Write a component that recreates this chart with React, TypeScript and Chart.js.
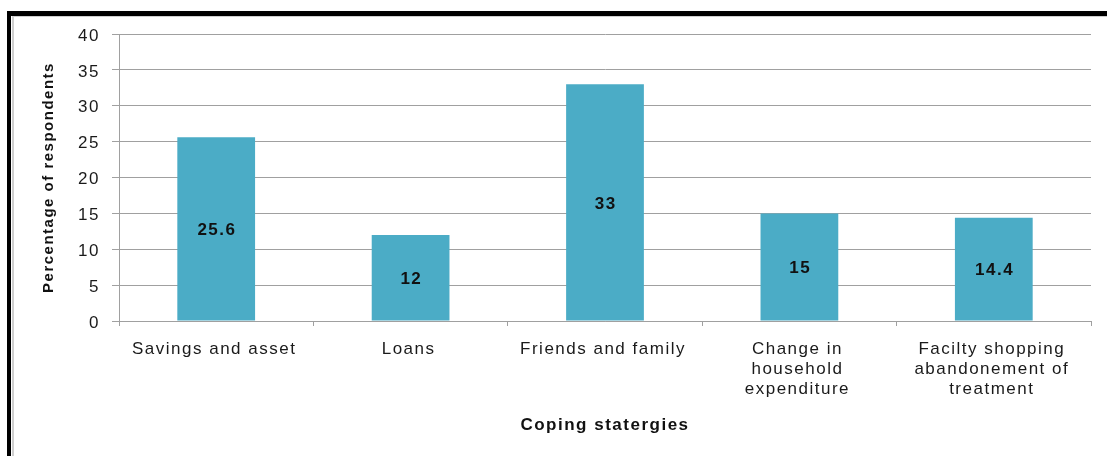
import React, { useEffect, useRef } from "react";
import { Chart, registerables } from "chart.js";

Chart.register(...registerables);

const categories: string[][] = [
  ["Savings and asset"],
  ["Loans"],
  ["Friends and family"],
  ["Change in", "household", "expenditure"],
  ["Facilty shopping", "abandonement of", "treatment"],
];
const values: number[] = [25.6, 12, 33, 15, 14.4];
const valueLabels: string[] = ["25.6", "12", "33", "15", "14.4"];
const yMin = 0;
const yMax = 40;
const yStep = 5;
const xTitle = "Coping statergies";
const yTitle = "Percentage of respondents";

const W = 1107;
const H = 456;
const FONT = "'Liberation Sans', Arial, sans-serif";
const SPACING = "1.5px";

const framePlugin = {
  id: "frame",
  beforeUpdate(chart: any) {
    chart.ctx.letterSpacing = SPACING;
  },
  beforeDraw(chart: any) {
    const ctx = chart.ctx;
    ctx.save();
    ctx.fillStyle = "#ffffff";
    ctx.fillRect(0, 0, W, H);
    ctx.fillStyle = "#000000";
    ctx.fillRect(7, 11, W - 7, 5);
    ctx.fillRect(7, 11, 4, H - 11);
    ctx.fillStyle = "#cfcfcf";
    ctx.fillRect(12, 16, W - 12, 1);
    ctx.fillRect(12, 16, 2, H - 16);
    ctx.restore();
    ctx.letterSpacing = SPACING;
  },
};

const labelPlugin = {
  id: "barLabels",
  afterDatasetsDraw(chart: any) {
    const ctx = chart.ctx;
    const meta = chart.getDatasetMeta(0);
    ctx.save();
    ctx.letterSpacing = SPACING;
    ctx.font = `bold 17px ${FONT}`;
    ctx.fillStyle = "#111111";
    ctx.textAlign = "center";
    ctx.textBaseline = "middle";
    meta.data.forEach((bar: any, i: number) => {
      const p = bar.getProps(["x", "y", "base"], true);
      ctx.fillText(valueLabels[i], p.x + 0.75, (p.y + p.base) / 2 + 1.5);
    });
    ctx.restore();
  },
};

export default function App() {
  const ref = useRef<HTMLCanvasElement>(null);
  useEffect(() => {
    if (!ref.current) return;
    const chart = new Chart(ref.current, {
      type: "bar",
      data: {
        labels: categories,
        datasets: [
          {
            data: values,
            backgroundColor: "#4BACC6",
            borderWidth: 0,
            barPercentage: 0.4,
            categoryPercentage: 1,
          },
        ],
      },
      plugins: [framePlugin, labelPlugin],
      options: {
        animation: false,
        responsive: false,
        devicePixelRatio: 1,
        layout: { padding: { top: 34, right: 16, left: 0, bottom: 0 } },
        plugins: {
          legend: { display: false },
          tooltip: { enabled: false },
        },
        scales: {
          x: {
            offset: true,
            afterFit: (s: any) => {
              s.height = 135;
            },
            grid: {
              offset: true,
              drawOnChartArea: false,
              drawTicks: true,
              tickLength: 5,
              color: "#a0a0a0",
            },
            border: { color: "#a0a0a0", width: 1 },
            ticks: {
              autoSkip: false,
              maxRotation: 0,
              minRotation: 0,
              padding: 13,
              labelOffset: -2,
              color: "#1a1a1a",
              font: { family: FONT, size: 17, lineHeight: 1.18 },
            },
            title: {
              display: true,
              text: xTitle,
              color: "#111111",
              font: { family: FONT, size: 17, weight: "bold", lineHeight: 1.2 },
              padding: { top: 0, bottom: 20 },
            },
          },
          y: {
            min: yMin,
            max: yMax,
            afterFit: (s: any) => {
              s.width = 119;
            },
            grid: {
              color: "#a0a0a0",
              tickLength: 7,
              drawTicks: true,
            },
            border: { color: "#a0a0a0", width: 1 },
            ticks: {
              stepSize: yStep,
              padding: 12,
              labelOffset: 2,
              color: "#1a1a1a",
              font: { family: FONT, size: 17 },
            },
            title: {
              display: true,
              text: yTitle,
              color: "#111111",
              font: { family: FONT, size: 15, weight: "bold", lineHeight: 1.2 },
              padding: { top: 39.5, bottom: 0 },
            },
          },
        },
      },
    } as any);
    return () => chart.destroy();
  }, []);
  return (
    <div style={{ position: "fixed", left: 0, top: 0, width: W, height: H, background: "#fff" }}>
      <canvas ref={ref} width={W} height={H} style={{ display: "block" }} />
    </div>
  );
}
